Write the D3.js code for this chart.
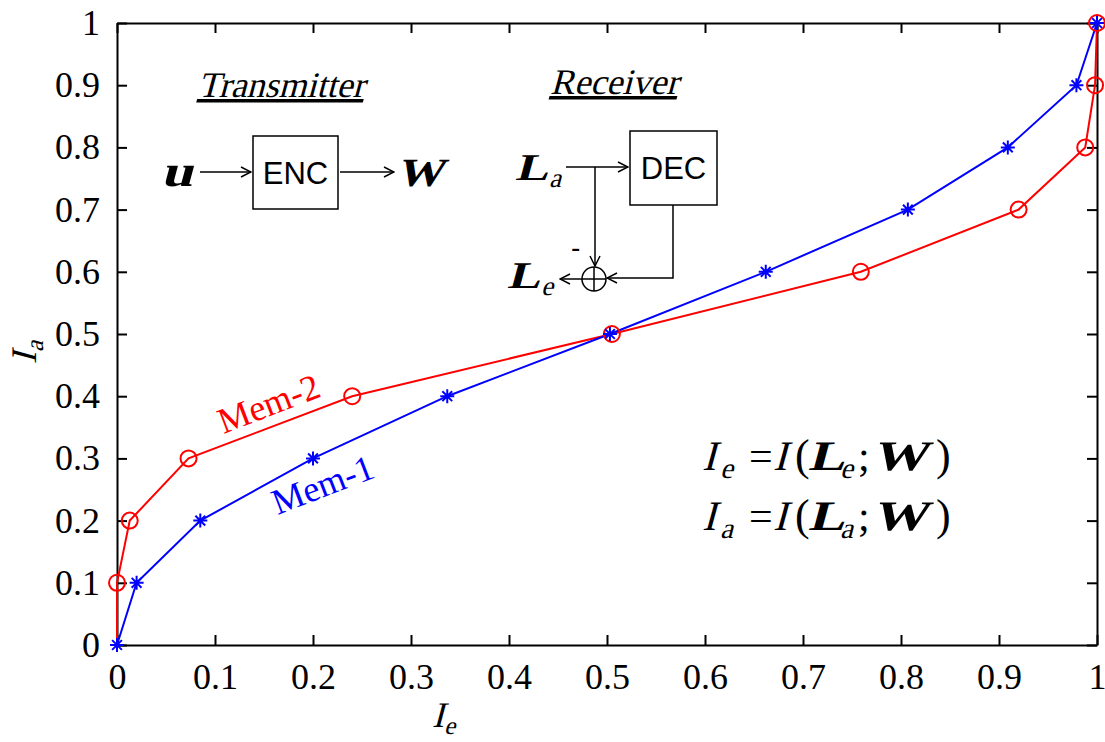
<!DOCTYPE html>
<html>
<head>
<meta charset="utf-8">
<script src="https://cdn.jsdelivr.net/npm/d3@7"></script>
<style>
  body { margin: 0; background: #fff; }
  svg { display: block; }
  text { font-family: "Liberation Serif", "Times New Roman", serif; }
  text.sans { font-family: "Liberation Sans", Arial, sans-serif; }
</style>
</head>
<body>
<svg id="chart" width="1105" height="742"></svg>
<script>
// tick values and labels
var tickVals = [0, 0.1, 0.2, 0.3, 0.4, 0.5, 0.6, 0.7, 0.8, 0.9, 1];
var tickLabels = ["0", "0.1", "0.2", "0.3", "0.4", "0.5", "0.6", "0.7", "0.8", "0.9", "1"];

// Mem-1 (blue, asterisks): Ie, Ia
var mem1Ie = [0, 0.020, 0.085, 0.200, 0.337, 0.503, 0.662, 0.807, 0.909, 0.979, 1.0];
var mem1Ia = [0, 0.1, 0.2, 0.3, 0.4, 0.5, 0.6, 0.7, 0.8, 0.9, 1.0];

// Mem-2 (red, circles)
var mem2Ie = [0, 0.0, 0.013, 0.073, 0.240, 0.505, 0.759, 0.920, 0.988, 0.998, 1.0];
var mem2Ia = [0, 0.1, 0.2, 0.3, 0.4, 0.5, 0.6, 0.7, 0.8, 0.9, 1.0];

var svg = d3.select("#chart");
var L = 117, R = 1097, T = 23, B = 645;

var x = d3.scaleLinear().domain([0, 1]).range([L, R]);
var y = d3.scaleLinear().domain([0, 1]).range([B, T]);

function fmt(d) { return tickLabels[tickVals.indexOf(d)]; }

// writes a run of text pieces one after another; italic pieces are slanted by hand
function run(parent, x0, y0, parts, anchor) {
  var g = parent.append("g");
  var cx = 0;
  parts.forEach(function (p) {
    if (p.at != null) cx = p.at;
    cx += p.pre || 0;
    var sx = p.sx || 1;
    var t = g.append("text")
      .attr("transform", "translate(" + cx + "," + (p.dy || 0) + ")" + (p.it ? " skewX(-15)" : "") + " scale(" + sx + ",1)")
      .attr("font-size", p.size || 36)
      .attr("font-weight", p.b ? "bold" : "normal")
      .attr("fill", p.fill || "#000")
      .text(p.t);
    if (p.u) t.attr("text-decoration", "underline");
    cx += t.node().getComputedTextLength() * sx + (p.post || 0);
  });
  var ox = anchor === "middle" ? x0 - cx / 2 : x0;
  g.attr("transform", "translate(" + ox + "," + y0 + ")");
  return g;
}

// axes (ticks inward)
var gx = svg.append("g").attr("transform", "translate(0," + B + ")")
    .call(d3.axisBottom(x).tickValues(tickVals).tickFormat(fmt).tickSizeInner(-10).tickSizeOuter(0).tickPadding(18));
var gxt = svg.append("g").attr("transform", "translate(0," + T + ")")
    .call(d3.axisTop(x).tickValues(tickVals).tickFormat("").tickSizeInner(-10).tickSizeOuter(0));
var gy = svg.append("g").attr("transform", "translate(" + L + ",0)")
    .call(d3.axisLeft(y).tickValues(tickVals).tickFormat(fmt).tickSizeInner(-10).tickSizeOuter(0).tickPadding(17));
var gyr = svg.append("g").attr("transform", "translate(" + R + ",0)")
    .call(d3.axisRight(y).tickValues(tickVals).tickFormat("").tickSizeInner(-10).tickSizeOuter(0));

[gx, gxt, gy, gyr].forEach(function (g) {
  g.attr("font-family", null);
  g.select(".domain").attr("stroke", "#000").attr("stroke-width", 2);
  g.selectAll(".tick line").attr("stroke", "#000").attr("stroke-width", 2);
  g.selectAll("text").attr("font-size", 36).attr("fill", "#000");
});
gy.selectAll("text").attr("dy", "0.32em");
gx.selectAll("text").attr("dy", "0.71em");

// axis labels
run(svg, 432, 727, [{ t: "I", it: 1, size: 36 }, { t: "e", it: 1, size: 25, dy: 7 }]);
var ylab = svg.append("g").attr("transform", "translate(36,364) rotate(-90)");
run(ylab, 0, 0, [{ t: "I", it: 1, size: 36 }, { t: "a", it: 1, size: 25, dy: 7 }]);

// series
function series(xs, ys) { return xs.map(function (v, i) { return [v, ys[i]]; }); }
var line = d3.line().x(function (d) { return x(d[0]); }).y(function (d) { return y(d[1]); });

var d1 = series(mem1Ie, mem1Ia), d2 = series(mem2Ie, mem2Ia);

svg.append("path").datum(d2).attr("d", line).attr("fill", "none").attr("stroke", "#ff0000").attr("stroke-width", 2);
svg.append("path").datum(d1).attr("d", line).attr("fill", "none").attr("stroke", "#0000ff").attr("stroke-width", 2);

svg.selectAll(".circ").data(d2.filter(function (d) { return d[1] > 0; })).enter().append("circle")
  .attr("cx", function (d) { return x(d[0]); }).attr("cy", function (d) { return y(d[1]); })
  .attr("r", 8).attr("fill", "none").attr("stroke", "#ff0000").attr("stroke-width", 2);

var s = 7;
var star = "M" + (-s) + ",0L" + s + ",0M0," + (-s) + "L0," + s +
  "M" + (-s * 0.7) + "," + (-s * 0.7) + "L" + (s * 0.7) + "," + (s * 0.7) +
  "M" + (-s * 0.7) + "," + (s * 0.7) + "L" + (s * 0.7) + "," + (-s * 0.7);
svg.selectAll(".star").data(d1).enter().append("path")
  .attr("transform", function (d) { return "translate(" + x(d[0]) + "," + y(d[1]) + ")"; })
  .attr("d", star).attr("fill", "none").attr("stroke", "#0000ff").attr("stroke-width", 2);

// series labels
svg.append("text").attr("transform", "translate(273,415) rotate(-21)").attr("text-anchor", "middle")
  .attr("font-size", 36).attr("fill", "#ff0000").text("Mem-2");
svg.append("text").attr("transform", "translate(327,496) rotate(-21)").attr("text-anchor", "middle")
  .attr("font-size", 36).attr("fill", "#0000ff").text("Mem-1");

// equations
function eq(yb, sub) {
  run(svg, 702, yb, [
    { t: "I", it: 1, size: 42, at: 0 },
    { t: sub, it: 1, size: 29, dy: 8, at: 18 },
    { t: "=", size: 42, at: 47 },
    { t: "I", it: 1, size: 42, at: 71 },
    { t: "(", size: 44, at: 93 },
    { t: "L", it: 1, b: 1, size: 42, sx: 1.3, at: 106 },
    { t: sub, it: 1, size: 29, dy: 8, at: 138 },
    { t: ";", size: 42, at: 156 },
    { t: "W", it: 1, b: 1, size: 42, sx: 1.32, at: 170 },
    { t: ")", size: 44, at: 234 }
  ]);
}
eq(470, "e");
eq(530, "a");

// block diagrams
var defs = svg.append("defs");
defs.append("marker").attr("id", "arr").attr("viewBox", "0 0 12 12").attr("refX", 11).attr("refY", 6)
  .attr("markerWidth", 12).attr("markerHeight", 12).attr("markerUnits", "userSpaceOnUse").attr("orient", "auto")
  .append("path").attr("d", "M1,1L11,6L1,11").attr("fill", "none").attr("stroke", "#000").attr("stroke-width", 1.5);

function ln(pts, arrow) {
  svg.append("path").attr("d", d3.line()(pts)).attr("fill", "none").attr("stroke", "#000").attr("stroke-width", 1.5)
    .attr("marker-end", arrow ? "url(#arr)" : null);
}

// transmitter
run(svg, 281, 97, [{ t: "Transmitter", it: 1, u: 1, size: 36 }], "middle");
svg.append("rect").attr("x", 253).attr("y", 136).attr("width", 85).attr("height", 73)
  .attr("fill", "none").attr("stroke", "#000").attr("stroke-width", 1.5);
svg.append("text").attr("class", "sans").attr("x", 295.5).attr("y", 184).attr("text-anchor", "middle").attr("font-size", 31).text("ENC");
run(svg, 161, 186, [{ t: "u", it: 1, b: 1, size: 44, sx: 1.3 }]);
ln([[200, 172], [251, 172]], true);
ln([[340, 172], [394, 172]], true);
run(svg, 396, 186, [{ t: "W", it: 1, b: 1, size: 40, sx: 1.18 }]);

// receiver
run(svg, 614, 94, [{ t: "Receiver", it: 1, u: 1, size: 36 }], "middle");
svg.append("rect").attr("x", 630).attr("y", 131).attr("width", 87).attr("height", 74)
  .attr("fill", "none").attr("stroke", "#000").attr("stroke-width", 1.5);
svg.append("text").attr("class", "sans").attr("x", 673.5).attr("y", 179).attr("text-anchor", "middle").attr("font-size", 31).text("DEC");
run(svg, 515, 180, [{ t: "L", it: 1, b: 1, size: 38, sx: 1.3 }, { t: "a", it: 1, size: 27, dy: 7, pre: 1 }]);
ln([[566, 167], [628, 167]], true);
ln([[595, 167], [595, 266]], true);
svg.append("circle").attr("cx", 594).attr("cy", 279).attr("r", 12).attr("fill", "none").attr("stroke", "#000").attr("stroke-width", 1.5);
ln([[582, 279], [606, 279]], false);
ln([[594, 267], [594, 291]], false);
ln([[673, 205], [673, 278], [607, 278]], true);
ln([[582, 279], [560, 279]], true);
svg.append("text").attr("x", 571).attr("y", 257).attr("class", "sans").attr("font-size", 28).text("-");
run(svg, 507, 288, [{ t: "L", it: 1, b: 1, size: 38, sx: 1.3 }, { t: "e", it: 1, size: 27, dy: 7, pre: 1 }]);
</script>
</body>
</html>
